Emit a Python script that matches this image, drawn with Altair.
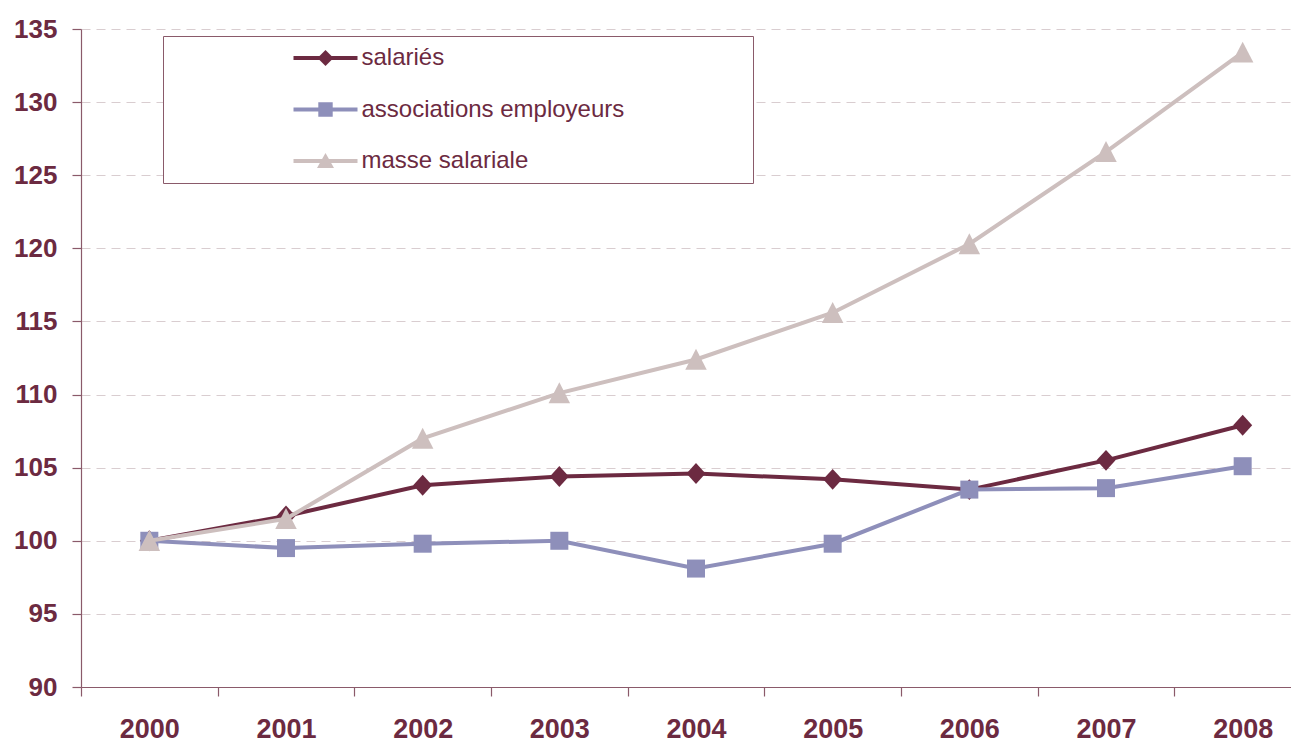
import altair as alt
import pandas as pd

# ---- data ----
years = ["2000", "2001", "2002", "2003", "2004", "2005", "2006", "2007", "2008"]
salaries = [100.0, 101.7, 103.8, 104.4, 104.6, 104.2, 103.5, 105.5, 107.9]
associations = [100.0, 99.5, 99.8, 100.0, 98.1, 99.8, 103.5, 103.6, 105.1]
masse = [100.0, 101.5, 107.0, 110.1, 112.4, 115.6, 120.3, 126.6, 133.4]
series_names = ["salariés", "associations employeurs", "masse salariale"]
series_colors = ["#6c2a41", "#8e8fba", "#cdbfbe"]
y_ticks = [90, 95, 100, 105, 110, 115, 120, 125, 130, 135]

# ---- styles ----
FONT = "Liberation Sans"
MAROON = "#6c2a41"
AXIS = "#8a5a6a"
GRID = "#d9cdd0"

point_shapes = [
    "M0,-1.1L1,0L0,1.1L-1,0Z",      # diamond (slightly tall)
    "square",
    "M0,-1L1,0.95L-1,0.95Z",         # triangle
]
point_sizes = [361, 324, 462]

legend_paths = [
    "M-3.2,-0.2H3.2V0.2H-3.2Z M0,-0.8L0.8,0L0,0.8L-0.8,0Z",
    "M-3.2,-0.2H3.2V0.2H-3.2Z M-0.72,-0.72H0.72V0.72H-0.72Z",
    "M-3.2,-0.2H3.2V0.2H-3.2Z M0,-0.8L0.85,0.7H-0.85Z",
]

rows = []
for name, vals in zip(series_names, [salaries, associations, masse]):
    for yr, v in zip(years, vals):
        rows.append({"annee": yr, "serie": name, "valeur": v})
df = pd.DataFrame(rows)

x_enc = alt.X(
    "annee:O",
    scale=alt.Scale(type="band", domain=years, range=[0, 1230],
                    paddingInner=0, paddingOuter=0),
    axis=alt.Axis(
        title=None, tickBand="extent", labelAngle=0, grid=False,
        labelFont=FONT, labelFontSize=27, labelFontWeight="bold",
        labelColor=MAROON, labelPadding=20,
        domainColor=AXIS, tickColor=AXIS, tickSize=9, domainWidth=1.2, tickWidth=1.2,
    ),
)
y_enc = alt.Y(
    "valeur:Q",
    scale=alt.Scale(domain=[90, 135], nice=False, zero=False),
    axis=alt.Axis(
        title=None, values=y_ticks, grid=True, gridDash=[9, 6], gridColor=GRID,
        gridWidth=1.2, labelFont=FONT, labelFontSize=26, labelFontWeight="bold",
        labelColor=MAROON, labelPadding=15, domainColor=AXIS, tickColor=AXIS,
        tickSize=9, domainWidth=1.2, tickWidth=1.2,
    ),
)

layers = []
for name, color, shp, sz in zip(series_names, series_colors, point_shapes, point_sizes):
    base = alt.Chart(df).transform_filter(alt.datum.serie == name)
    layers.append(base.mark_line(color=color, strokeWidth=4).encode(x=x_enc, y=y_enc))
    layers.append(
        base.mark_point(filled=True, color=color, shape=shp, size=sz, opacity=1,
                        strokeWidth=0).encode(x=x_enc, y=y_enc)
    )

legend = alt.Legend(
    title=".", titleOrient="right", titleColor="transparent", titleFontSize=10,
    titlePadding=116,
    orient="none", legendX=82, legendY=7, padding=10,
    strokeColor=AXIS, fillColor="white",
    symbolSize=400, symbolOffset=140.5, symbolStrokeWidth=0, symbolOpacity=1,
    labelOffset=24, labelFont=FONT, labelFontSize=24, labelColor=MAROON,
    labelLimit=600, rowPadding=27.5,
)

legend_layer = (
    alt.Chart(df)
    .transform_filter("false")
    .mark_point(filled=True, opacity=1)
    .encode(
        x=x_enc,
        y=y_enc,
        color=alt.Color("serie:N", scale=alt.Scale(domain=series_names, range=series_colors),
                        legend=legend),
        shape=alt.Shape("serie:N", scale=alt.Scale(domain=series_names, range=legend_paths),
                        legend=legend),
    )
)

chart = (
    alt.layer(*layers, legend_layer)
    .properties(
        width=1210,
        height=658,
        autosize=alt.AutoSizeParams(type="none"),
        padding={"left": 73, "top": 21, "right": 0, "bottom": 55},
        background="white",
    )
    .configure_view(strokeWidth=0)
)

chart.save("out.html", embed_options={"renderer": "svg", "actions": False})
